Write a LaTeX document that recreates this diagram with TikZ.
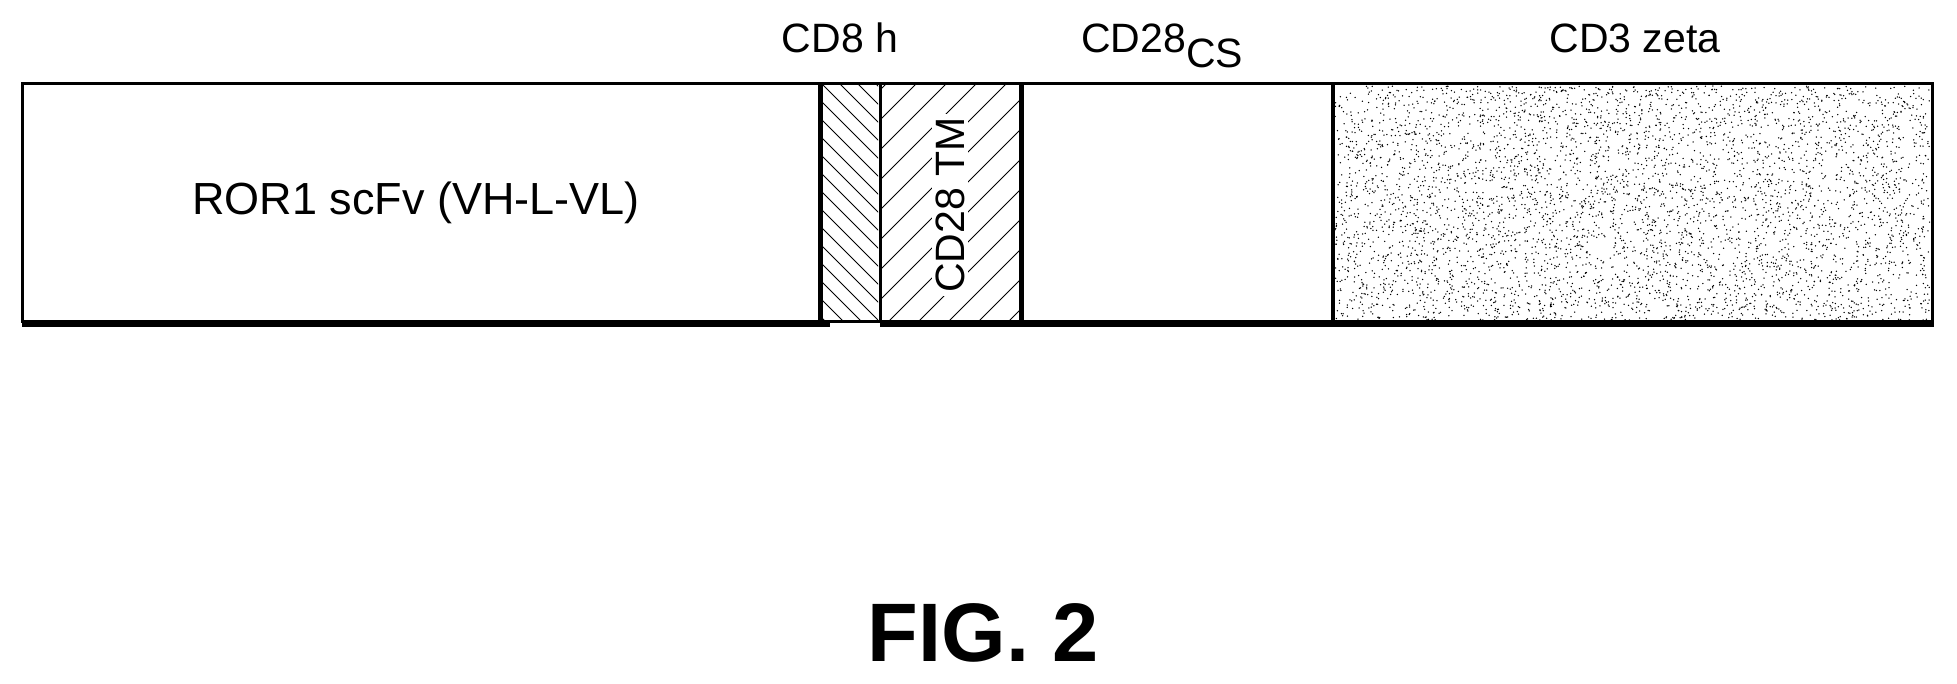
\documentclass[tikz,border=0pt]{standalone}
\usepackage{fontspec}
\setmainfont{Liberation Sans}
\begin{document}
\begin{tikzpicture}[x=1pt,y=-1pt,
  box/.style={draw=black,line width=3pt,fill=white},
  lbl/.style={font=\fontsize{41}{44}\selectfont,inner sep=0pt},
  hatch/.style={line width=1pt}]
\useasboundingbox (0,0) rectangle (1957,684);
\draw[box] (22,84) rectangle (820,322);
\draw[box] (820,84) rectangle (880,322);
\draw[box] (880,84) rectangle (1021,322);
\draw[box] (1021,84) rectangle (1333,322);
\draw[box] (1333,84) rectangle (1932,322);
% hatching CD8 h
\begin{scope}
\clip (822,86) rectangle (878,320);
\foreach \k in {-300,-282,...,300} \draw[hatch] (820+\k,70) -- (820+\k+260,330);
\end{scope}
% hatching CD28 TM
\begin{scope}
\clip (882,86) rectangle (1019,320);
\foreach \k in {-300,-270,...,400} \draw[hatch] (880+\k,330) -- (880+\k+260,70);
\end{scope}
% dots
\begin{scope}
\clip (1335,86) rectangle (1930,320);
\pgfmathsetseed{7}
\foreach \i in {1,...,5000}{
  \pgfmathsetmacro\xx{1335+595*rnd}\pgfmathsetmacro\yy{86+234*rnd}
  \fill (\xx,\yy) circle (0.75);}
\end{scope}
% shadows
\draw[line width=4pt] (22,325) -- (830,325);
\draw[line width=4pt] (880,325) -- (1934,325);
\draw[line width=5pt] (820,84) -- (820,326);
\draw[line width=5pt] (1021,84) -- (1021,326);
\draw[line width=4pt] (1333,84) -- (1333,326);
% labels
\node[lbl,font=\fontsize{45}{48}\selectfont] (rortxt) at (416,203) {ROR1 scFv (VH-L-VL)};
\node[lbl,fill=white,inner sep=3pt,rotate=90] (tm) at (950,205) {CD28 TM};
\node[lbl] (cd8) at (840,38) {CD8 h};
\node[lbl,anchor=base west] (cs) at (1081,53) {CD28\raisebox{-0.35em}{CS}};
\node[lbl] (zeta) at (1635,38) {CD3 zeta};
\node[font=\fontsize{83}{88}\selectfont\bfseries,inner sep=0pt] (fig) at (983,633) {FIG. 2};
\end{tikzpicture}
\end{document}
